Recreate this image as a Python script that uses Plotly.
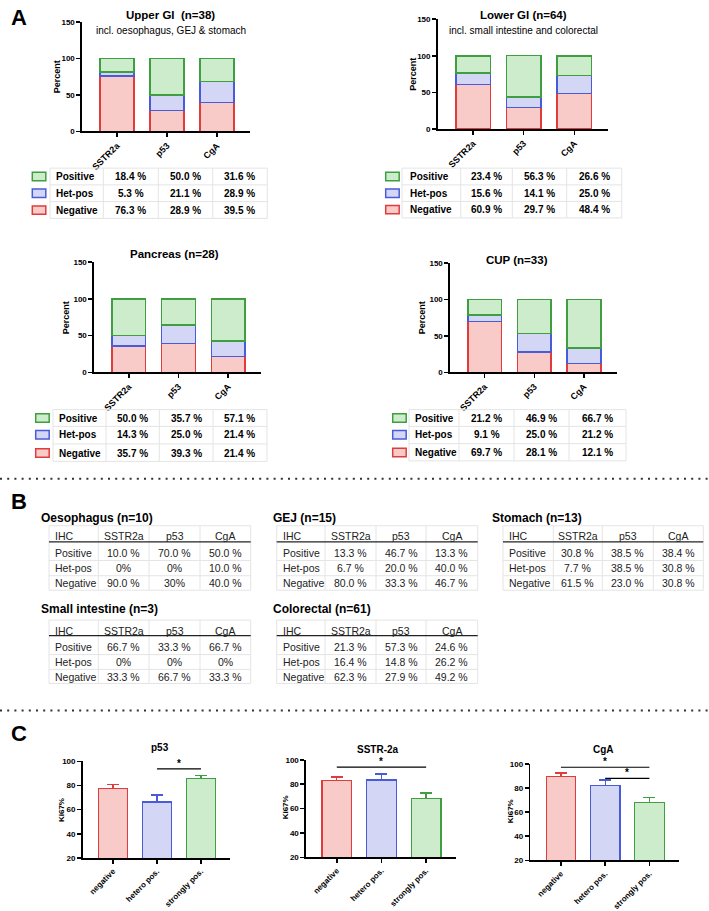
import plotly.graph_objects as go

W, H = 709, 911
F = "Liberation Sans, Arial, Helvetica, sans-serif"

# ---------------- DATA ----------------
CATS_A = ["SSTR2a", "p53", "CgA"]
ROWS_A = ["Positive", "Het-pos", "Negative"]

upper_pos = [18.4, 50.0, 31.6]
upper_het = [5.3, 21.1, 28.9]
upper_neg = [76.3, 28.9, 39.5]

lower_pos = [23.4, 56.3, 26.6]
lower_het = [15.6, 14.1, 25.0]
lower_neg = [60.9, 29.7, 48.4]

panc_pos = [50.0, 35.7, 57.1]
panc_het = [14.3, 25.0, 21.4]
panc_neg = [35.7, 39.3, 21.4]

cup_pos = [21.2, 46.9, 66.7]
cup_het = [9.1, 25.0, 21.2]
cup_neg = [69.7, 28.1, 12.1]

B_HEADER = ["IHC", "SSTR2a", "p53", "CgA"]
oeso_pos = ["10.0 %", "70.0 %", "50.0 %"]
oeso_het = ["0%", "0%", "10.0 %"]
oeso_neg = ["90.0 %", "30%", "40.0 %"]
gej_pos = ["13.3 %", "46.7 %", "13.3 %"]
gej_het = ["6.7 %", "20.0 %", "40.0 %"]
gej_neg = ["80.0 %", "33.3 %", "46.7 %"]
stom_pos = ["30.8 %", "38.5 %", "38.4 %"]
stom_het = ["7.7 %", "38.5 %", "30.8 %"]
stom_neg = ["61.5 %", "23.0 %", "30.8 %"]
si_pos = ["66.7 %", "33.3 %", "66.7 %"]
si_het = ["0%", "0%", "0%"]
si_neg = ["33.3 %", "66.7 %", "33.3 %"]
crc_pos = ["21.3 %", "57.3 %", "24.6 %"]
crc_het = ["16.4 %", "14.8 %", "26.2 %"]
crc_neg = ["62.3 %", "27.9 %", "49.2 %"]

CATS_C = ["negative", "hetero pos.", "strongly pos."]
p53_ki67 = [77.5, 66.2, 85.6]
p53_sem = [3.6, 5.8, 2.6]
sstr_ki67 = [83.0, 83.4, 68.2]
sstr_sem = [2.8, 5.0, 4.6]
cga_ki67 = [89.9, 82.0, 68.3]
cga_sem = [2.7, 4.7, 3.6]
p53_sig = [(1, 2, 93.7)]
sstr_sig = [(0, 2, 93.9)]
cga_sig = [(0, 2, 97.3), (1, 2, 88.0)]

# ---------------- STYLE ----------------
GREEN_F, GREEN_E = "#cdeccb", "#3f9e3f"
BLUE_F, BLUE_E = "#d4d6f6", "#4a5bd8"
RED_F, RED_E = "#f9cbc8", "#e03c3c"
GRID = "#e4e4e4"

fig = go.Figure()
annotations, shapes = [], []
layout = dict(width=W, height=H, margin=dict(l=0, r=0, t=0, b=0),
              paper_bgcolor="white", plot_bgcolor="white", barmode="stack",
              showlegend=False, font=dict(family=F, color="black"))


def X(p):
    return p / W


def Y(p):
    return 1 - p / H


def text(t, x, y, size, bold=False, xa="center", ya="middle", angle=0, color="black"):
    annotations.append(dict(text=t, x=X(x), y=Y(y), xref="paper", yref="paper",
                            showarrow=False, xanchor=xa, yanchor=ya, textangle=angle,
                            font=dict(family=F, size=size, color=color,
                                      weight="bold" if bold else "normal")))


def line(x0, y0, x1, y1, color, width, dash=None):
    d = dict(color=color, width=width)
    if dash:
        d["dash"] = dash
    shapes.append(dict(type="line", xref="paper", yref="paper",
                       x0=X(x0), y0=Y(y0), x1=X(x1), y1=Y(y1), line=d))


def rect(x0, y0, x1, y1, fill, edge, width):
    shapes.append(dict(type="rect", xref="paper", yref="paper",
                       x0=X(x0), y0=Y(y0), x1=X(x1), y1=Y(y1),
                       fillcolor=fill, line=dict(color=edge, width=width)))


def axes(n, xd, yd, yrange, ytickvals, cats, xrange, xsize, ysize):
    s = "" if n == 1 else str(n)
    common = dict(showline=True, linecolor="black", linewidth=1.6, ticks="outside",
                  ticklen=4, tickwidth=1.5, tickcolor="black", showgrid=False,
                  zeroline=False, fixedrange=True)
    layout["xaxis" + s] = dict(domain=[X(xd[0]), X(xd[1])], anchor="y" + s, range=xrange,
                               tickmode="array", tickvals=list(range(len(cats))),
                               ticktext=cats, tickangle=-45,
                               tickfont=dict(family=F, size=xsize, color="black", weight="bold"),
                               **common)
    layout["yaxis" + s] = dict(domain=[Y(yd[1]), Y(yd[0])], anchor="x" + s, range=yrange,
                               tickmode="array", tickvals=ytickvals,
                               tickfont=dict(family=F, size=ysize, color="black", weight="bold"),
                               **common)
    return "x" + s, "y" + s


# ---------------- PANEL A ----------------
A_PANELS = [
    dict(pos=upper_pos, het=upper_het, neg=upper_neg, xd=(82, 250), yd=(18.3, 129.3),
         title="Upper GI  (n=38)", tx=170.5, ty=10.7, sub="incl. oesophagus, GEJ & stomach", sy=27.3,
         perc=(56.7, 73.7), sq=32.3, lab=54.3, lines=[50, 103.3, 158.3, 212.7, 267.3],
         rows=[175, 192, 209]),
    dict(pos=lower_pos, het=lower_het, neg=lower_neg, xd=(437.7, 607.7), yd=(15.3, 127),
         title="Lower GI (n=64)", tx=523.7, ty=10.7, sub="incl. small intestine and colorectal", sy=26.7,
         perc=(412.7, 71), sq=385.7, lab=408.3, lines=[402, 460.7, 512.3, 566.7, 621.7],
         rows=[175, 192, 208.5]),
    dict(pos=panc_pos, het=panc_het, neg=panc_neg, xd=(94, 261), yd=(261.7, 373.7),
         title="Pancreas (n=28)", tx=174.7, ty=253.3, sub=None, sy=None,
         perc=(66.7, 318), sq=35.7, lab=57.3, lines=[53, 106, 159.3, 213, 267],
         rows=[420, 437, 455.5]),
    dict(pos=cup_pos, het=cup_het, neg=cup_neg, xd=(450, 616.7), yd=(262.7, 373.7),
         title="CUP (n=33)", tx=516.8, ty=260, sub=None, sy=None,
         perc=(422.7, 318), sq=392.7, lab=413.3, lines=[409, 459, 514, 569, 626],
         rows=[420, 437, 455]),
]

n = 1
for p in A_PANELS:
    xa, ya = axes(n, p["xd"], p["yd"], [0, 150], [0, 50, 100, 150], CATS_A, [-0.7, 2.66], 9, 8)
    for vals, fc, ec in [(p["neg"], RED_F, RED_E), (p["het"], BLUE_F, BLUE_E), (p["pos"], GREEN_F, GREEN_E)]:
        fig.add_bar(x=[0, 1, 2], y=vals, width=0.68, xaxis=xa, yaxis=ya, hoverinfo="skip",
                    marker=dict(color=fc, line=dict(color=ec, width=1.5)))
    text(p["title"], p["tx"], p["ty"], 11.5, bold=True)
    if p["sub"]:
        text(p["sub"], p["tx"], p["sy"], 10)
    text("Percent", p["perc"][0], p["perc"][1], 9, bold=True, angle=-90)
    # table
    L = p["lines"]
    rows = p["rows"]
    top, bot = rows[0] - 8.5, rows[-1] + 8.5
    hys = [top] + [(rows[i] + rows[i + 1]) / 2 for i in range(len(rows) - 1)] + [bot]
    for hy in hys:
        line(L[0], hy, L[-1], hy, GRID, 1)
    for lx in L:
        line(lx, top, lx, bot, GRID, 1)
    for r, (lab, vals, fc, ec) in enumerate(zip(ROWS_A, [p["pos"], p["het"], p["neg"]],
                                                 [GREEN_F, BLUE_F, RED_F], [GREEN_E, BLUE_E, RED_E])):
        ry = rows[r]
        rect(p["sq"], ry - 4.2, p["sq"] + 13.5, ry + 4.2, fc, ec, 1.5)
        text(lab, p["lab"], ry, 10, bold=True, xa="left")
        for c in range(3):
            cx = (L[c + 1] + L[c + 2]) / 2
            text(f"{vals[c]:.1f} %", cx, ry, 10, bold=True)
    n += 1

# ---------------- PANEL B ----------------
G1 = dict(ty=521.7, hy=540, uy=545.7, rows=[556.7, 572.3, 587.7], gtop=529.3, gbot=594.7)
G2 = dict(ty=614, hy=635.7, uy=640.7, rows=[652.3, 667.7, 682.3], gtop=625, gbot=689.3)
COL1 = dict(tx=39, lines=[49, 98.3, 149, 200, 250.7])
COL2 = dict(tx=271, lines=[276.7, 325, 376, 426, 477.7])
COL3 = dict(tx=490, lines=[503, 553.3, 602.3, 653.3, 703.3])

B_TABLES = [
    ("Oesophagus (n=10)", COL1, G1, [oeso_pos, oeso_het, oeso_neg]),
    ("GEJ (n=15)", COL2, G1, [gej_pos, gej_het, gej_neg]),
    ("Stomach (n=13)", COL3, G1, [stom_pos, stom_het, stom_neg]),
    ("Small intestine (n=3)", COL1, G2, [si_pos, si_het, si_neg]),
    ("Colorectal (n=61)", COL2, G2, [crc_pos, crc_het, crc_neg]),
]

for title, col, g, data in B_TABLES:
    L = col["lines"]
    text(title, col["tx"], g["ty"], 12, bold=True, xa="left")
    rows = g["rows"]
    hys = [g["gtop"]] + [(rows[i] + rows[i + 1]) / 2 for i in range(len(rows) - 1)] + [g["gbot"]]
    for hy in hys:
        line(L[0], hy, L[-1], hy, GRID, 1)
    for lx in L:
        line(lx, g["gtop"], lx, g["gbot"], GRID, 1)
    line(L[0], g["uy"], L[-1], g["uy"], "#222222", 1.2)
    text(B_HEADER[0], L[0] + 4, g["hy"], 10.5, xa="left", color="#222")
    for c in range(3):
        text(B_HEADER[c + 1], (L[c + 1] + L[c + 2]) / 2, g["hy"], 10.5, color="#222")
    for r, lab in enumerate(ROWS_A):
        text(lab, L[0] + 4, rows[r], 10.5, xa="left", color="#222")
        for c in range(3):
            text(data[r][c], (L[c + 1] + L[c + 2]) / 2, rows[r], 10.5, color="#222")

# ---------------- PANEL C ----------------
C_PANELS = [
    dict(v=p53_ki67, e=p53_sem, sig=p53_sig, xd=(82.7, 230), yd=(768.3, 866.3),
         title="p53", tx=160, ty=754, ki=(61.7, 818)),
    dict(v=sstr_ki67, e=sstr_sem, sig=sstr_sig, xd=(306, 455.6), yd=(766.7, 865.7),
         title="SSTR-2a", tx=378, ty=756, ki=(285, 815)),
    dict(v=cga_ki67, e=cga_sem, sig=cga_sig, xd=(530.4, 678.6), yd=(771, 868.7),
         title="CgA", tx=603.3, ty=756, ki=(510, 819)),
]

for p in C_PANELS:
    xa, ya = axes(n, p["xd"], p["yd"], [20, 100], [20, 40, 60, 80, 100], CATS_C, [-0.69, 2.66], 8, 8)
    for i, (fc, ec) in enumerate([(RED_F, RED_E), (BLUE_F, BLUE_E), (GREEN_F, GREEN_E)]):
        fig.add_bar(x=[i], y=[p["v"][i]], width=0.667, xaxis=xa, yaxis=ya, hoverinfo="skip",
                    marker=dict(color=fc, line=dict(color=ec, width=1.3)),
                    error_y=dict(type="data", symmetric=False, array=[p["e"][i]], arrayminus=[0],
                                 color=ec, thickness=1.3, width=6))
    for (a, b, yv) in p["sig"]:
        shapes.append(dict(type="line", xref=xa, yref=ya, x0=a, x1=b, y0=yv, y1=yv,
                           line=dict(color="black", width=1.2)))
        annotations.append(dict(text="*", x=(a + b) / 2, y=yv, xref=xa, yref=ya, showarrow=False,
                                yanchor="bottom", yshift=-2,
                                font=dict(family=F, size=10, color="black", weight="bold")))
    text(p["title"], p["tx"], p["ty"], 10, bold=True)
    text("Ki67%", p["ki"][0], p["ki"][1], 8, bold=True, angle=-90)
    n += 1

# ---------------- LABELS & SEPARATORS ----------------
text("A", 19, 14, 22, bold=True)
text("B", 19, 505, 22, bold=True)
text("C", 19, 740, 22, bold=True)
line(0, 481.7, W, 481.7, "#333333", 2, dash="2px,5.2px")
line(0, 716.7, W, 716.7, "#333333", 2, dash="2px,5.2px")

layout["annotations"] = annotations
layout["shapes"] = shapes
fig.update_layout(**layout)
fig.write_html("out.html", config={"displayModeBar": False, "staticPlot": True},
               post_script=("document.documentElement.style.overflow='hidden';"
                            "document.body.style.margin='0px';document.body.style.padding='0px';"
                            "document.body.style.overflow='hidden';"))
